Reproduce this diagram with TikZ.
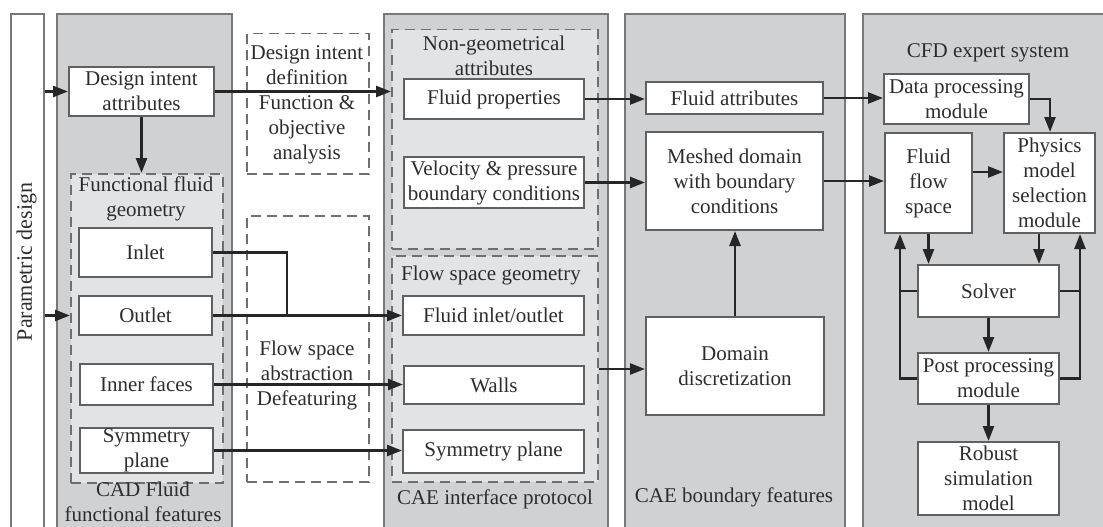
\documentclass[tikz,border=0pt]{standalone}
\usepackage{fontspec}
\setmainfont{Liberation Serif}
\usetikzlibrary{arrows.meta,calc}
\definecolor{panelgray}{RGB}{208,209,211}
\definecolor{innergray}{RGB}{226,227,229}
\definecolor{edgegray}{RGB}{96,96,96}
\definecolor{paneledge}{RGB}{120,120,120}
\definecolor{dashgray}{RGB}{110,110,110}
\definecolor{inkc}{RGB}{38,38,38}
\definecolor{txtc}{RGB}{45,45,45}
\begin{document}
\begin{tikzpicture}[x=1pt,y=-1pt,
  every node/.style={font=\fontsize{21}{25}\selectfont, text=txtc},
  panel/.style={fill=panelgray, draw=paneledge, line width=2pt, inner sep=0pt, anchor=north west},
  box/.style={draw=edgegray, line width=2pt, fill=white, inner sep=0pt, align=center, anchor=center},
  dbox/.style={draw=dashgray, dash pattern=on 10pt off 6pt, line width=1.5pt, inner sep=0pt, anchor=north west},
  lbl/.style={align=center, inner sep=0pt},
  conn/.style={draw=inkc, line width=2.5pt},
  arr/.style={conn, -{Triangle[length=15pt,width=11pt]}}
]
\useasboundingbox (0,0) rectangle (1103,527);
\clip (0,0) rectangle (1103,527);
\fill[white] (0,0) rectangle (1103,527);

% panels
\node[panel, fill=white, minimum width=33pt, minimum height=540pt] (param) at (10,13) {};
\node[lbl, rotate=90, font=\fontsize{22}{26}\selectfont] (ptxt) at (26.5,262) {Parametric design};
\node[panel, minimum width=175pt, minimum height=540pt] (cadp) at (56,13) {};
\node[panel, minimum width=224pt, minimum height=540pt] (caei) at (383,13) {};
\node[panel, minimum width=220pt, minimum height=540pt] (caeb) at (624,13) {};
\node[panel, minimum width=270pt, minimum height=540pt] (cfd) at (862,13) {};

% dashed groups
\node[dbox, fill=white, minimum width=122pt, minimum height=140pt] (dfdef) at (246,33) {};
\node[dbox, fill=white, minimum width=122pt, minimum height=266pt] (fsabs) at (246,215) {};
\node[dbox, fill=innergray, minimum width=206pt, minimum height=219pt] (nongeo) at (391,29) {};
\node[dbox, fill=innergray, minimum width=206pt, minimum height=226pt] (fsgeo) at (391,255) {};
\node[dbox, fill=innergray, minimum width=152pt, minimum height=309pt] (ffgeo) at (70,173) {};

% labels
\node[lbl] (ldfdef) at (307,105) {Design intent\\definition\\Function \&\\objective\\analysis};
\node[lbl] (lfsabs) at (307,375) {Flow space\\abstraction\\Defeaturing};
\node[lbl] (lnongeo) at (494,55.5) {Non-geometrical\\attributes};
\node[lbl] (lfsgeo) at (491,275) {Flow space geometry};
\node[lbl] (lffgeo) at (146,198.5) {Functional fluid\\geometry};
\node[lbl] (lcad) at (143,502) {CAD Fluid\\functional features};
\node[lbl] (lcaei) at (495,499) {CAE interface protocol};
\node[lbl] (lcaeb) at (734,497) {CAE boundary features};
\node[lbl] (lcfd) at (988,53) {CFD expert system};

% boxes
\node[box, minimum width=145pt, minimum height=49pt] (dia) at (141.5,91.5) {Design intent\\attributes};
\node[box, minimum width=133pt, minimum height=49pt] (inlet) at (145.5,252.5) {Inlet};
\node[box, minimum width=133pt, minimum height=39pt] (outlet) at (145.5,315.5) {Outlet};
\node[box, minimum width=133pt, minimum height=41pt] (inner) at (146.5,384.5) {Inner faces};
\node[box, minimum width=133pt, minimum height=45pt] (symL) at (146.5,450.5) {Symmetry\\plane};
\node[box, minimum width=180pt, minimum height=40pt] (fprop) at (494,99) {Fluid properties};
\node[box, minimum width=180pt, minimum height=51pt] (velo) at (494,182.5) {Velocity \& pressure\\boundary conditions};
\node[box, minimum width=181pt, minimum height=39pt] (fio) at (493.5,315.5) {Fluid inlet/outlet};
\node[box, minimum width=180pt, minimum height=38pt] (walls) at (494,385) {Walls};
\node[box, minimum width=181pt, minimum height=43pt] (symR) at (493.5,451.5) {Symmetry plane};
\node[box, minimum width=177pt, minimum height=32pt] (fattr) at (734.5,98) {Fluid attributes};
\node[box, minimum width=177pt, minimum height=98pt] (mesh) at (734.5,181) {Meshed domain\\with boundary\\conditions};
\node[box, minimum width=178pt, minimum height=98pt] (ddisc) at (735,366) {Domain\\discretization};
\node[box, minimum width=145pt, minimum height=50pt] (dpm) at (956.5,99) {Data processing\\module};
\node[box, minimum width=87pt, minimum height=100pt] (ffs) at (928.5,183) {Fluid\\flow\\space};
\node[box, minimum width=91pt, minimum height=100pt] (phys) at (1049.5,183) {Physics\\model\\selection\\module};
\node[box, minimum width=141pt, minimum height=52pt] (solver) at (988.5,291) {Solver};
\node[box, minimum width=141pt, minimum height=51pt] (post) at (988.5,378.5) {Post processing\\module};
\node[box, minimum width=141pt, minimum height=73pt] (robust) at (988.5,478.5) {Robust\\simulation\\model};

% helper coordinates
\coordinate (jx) at (287,0);
\coordinate (wy) at (0,369);
\coordinate (fy) at (0,172);
\coordinate (xm) at (1039,0);
\coordinate (xl) at (900,0);
\coordinate (xr) at (1080,0);
\coordinate (xd) at (1050,0);

% connectors
\draw[arr] (param.east |- dia.west) -- (dia.west);
\draw[arr] (param.east |- outlet.west) -- (ffgeo.west |- outlet.west);
\draw[arr] (dia.south) -- (dia.south |- ffgeo.north);
\draw[arr] (dia.east) -- (nongeo.west |- dia.east);
\draw[conn] (inlet.east) -| (jx |- outlet.east);
\draw[arr] (outlet.east) -- (fio.west);
\draw[arr] (inner.east) -- (walls.west |- inner.east);
\draw[arr] (symL.east) -- (symR.west |- symL.east);
\draw[arr] (fprop.east) -- (fattr.west |- fprop.east);
\draw[arr] (velo.east) -- (mesh.west |- velo.east);
\draw[arr] (fsgeo.east |- wy) -- (ddisc.west |- wy);
\draw[arr] (ddisc.north) -- (ddisc.north |- mesh.south);
\draw[arr] (fattr.east) -- (dpm.west |- fattr.east);
\draw[arr] (mesh.east) -- (ffs.west |- mesh.east);
\draw[arr] (dpm.east) -| (xd |- phys.north);
\draw[arr] (ffs.east |- fy) -- (phys.west |- fy);
\draw[arr] (ffs.south) -- (ffs.south |- solver.north);
\draw[arr] (xm |- phys.south) -- (xm |- solver.north);
\draw[conn] (solver.west) -- (xl |- solver.west);
\draw[arr] (post.west) -| (xl |- ffs.south);
\draw[conn] (solver.east) -- (xr |- solver.east);
\draw[arr] (post.east) -| (xr |- phys.south);
\draw[arr] (solver.south) -- (post.north);
\draw[arr] (post.south) -- (robust.north);
\end{tikzpicture}
\end{document}
